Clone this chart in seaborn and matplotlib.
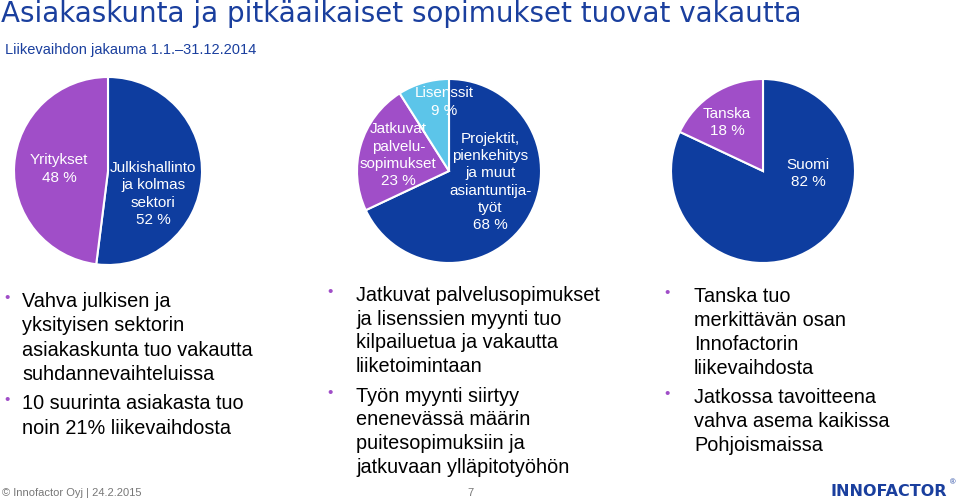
import seaborn as sns
import matplotlib.pyplot as plt

# data
asiakas_labels = ["Julkishallinto\nja kolmas\nsektori", "Yritykset"]
asiakas_values = [52, 48]

palvelu_labels = ["Projektit,\npienkehitys\nja muut\nasiantuntija-\ntyöt",
                  "Jatkuvat\npalvelu-\nsopimukset", "Lisenssit"]
palvelu_values = [68, 23, 9]

maa_labels = ["Suomi", "Tanska"]
maa_values = [82, 18]

bullets_1 = [["Vahva julkisen ja", "yksityisen sektorin",
              "asiakaskunta tuo vakautta", "suhdannevaihteluissa"],
             ["10 suurinta asiakasta tuo", "noin 21% liikevaihdosta"]]
bullets_2 = [["Jatkuvat palvelusopimukset", "ja lisenssien myynti tuo",
              "kilpailuetua ja vakautta", "liiketoimintaan"],
             ["Työn myynti siirtyy", "enenevässä määrin",
              "puitesopimuksiin ja", "jatkuvaan ylläpitotyöhön"]]
bullets_3 = [["Tanska tuo", "merkittävän osan", "Innofactorin",
              "liikevaihdosta"],
             ["Jatkossa tavoitteena", "vahva asema kaikissa",
              "Pohjoismaissa"]]

title = "Asiakaskunta ja pitkäaikaiset sopimukset tuovat vakautta"
subtitle = "Liikevaihdon jakauma 1.1.–31.12.2014"

# colours
blue = "#0e3d9f"
purple = "#a04ec8"
light = "#5cc5e9"
title_col = "#1a3f9e"

sns.set_theme(style="white")
plt.rcParams['font.family'] = ['Liberation Sans', 'DejaVu Sans']

W, H = 959, 500
fig = plt.figure(figsize=(W / 100, H / 100), dpi=100)


def fx(x):
    return x / W


def fy(y):
    return 1 - y / H


def pie_axes(cx, cy, r):
    return fig.add_axes([fx(cx - r), fy(cy + r), 2 * r / W, 2 * r / H])


def draw_pie(ax, values, colors, labels, label_pos):
    ax.pie(values, colors=colors, startangle=90, counterclock=False,
           wedgeprops=dict(edgecolor="white", linewidth=1.5))
    ax.set_xlim(-1, 1)
    ax.set_ylim(-1, 1)
    for lab, val, (dx, dy) in zip(labels, values, label_pos):
        ax.text(dx, dy, f"{lab}\n{val} %", ha="center", va="center",
                color="white", fontsize=11, linespacing=1.3)


ax1 = pie_axes(108, 171, 94)
draw_pie(ax1, asiakas_values, [blue, purple], asiakas_labels,
         [(0.48, -0.245), (-0.52, 0.02)])

ax2 = pie_axes(449, 171, 92)
draw_pie(ax2, palvelu_values, [blue, purple, light], palvelu_labels,
         [(0.45, -0.12), (-0.55, 0.17), (-0.05, 0.75)])

ax3 = pie_axes(763, 171, 92)
draw_pie(ax3, maa_values, [blue, purple], maa_labels,
         [(0.49, -0.03), (-0.39, 0.53)])

# title and subtitle
fig.text(fx(1), fy(22), title, color=title_col, fontsize=20,
         family=['DejaVu Sans'], va="baseline")
fig.text(fx(5), fy(54), subtitle, color=title_col, fontsize=10.5,
         family=['Liberation Sans Narrow', 'Liberation Sans'], va="baseline")


def bullet_column(paragraphs, bx, tx, y0, step, gap):
    y = y0
    for para in paragraphs:
        fig.text(fx(bx), fy(y - 9), "•", color=purple, fontsize=11,
                 ha="center", va="center")
        for line in para:
            fig.text(fx(tx), fy(y), line, fontsize=14.3, color="black",
                     va="baseline")
            y += step
        y += gap - step


bullet_column(bullets_1, 7, 22, 307, 24.3, 29.3)
bullet_column(bullets_2, 330, 356, 301, 23.6, 30)
bullet_column(bullets_3, 667, 694, 302, 24, 29)

# footer
fig.text(fx(2), fy(496), "© Innofactor Oyj | 24.2.2015", color="#777777",
         fontsize=8, family=['Liberation Sans Narrow', 'Liberation Sans'],
         va="baseline")
fig.text(fx(467), fy(496), "7", color="#777777", fontsize=8, va="baseline")
fig.text(fx(830), fy(496), "INNOFACTOR", color=title_col, fontsize=11.5,
         fontweight="bold", family=['DejaVu Sans'], va="baseline")
fig.text(fx(950), fy(484), "®", color=title_col, fontsize=5.5, va="baseline")

fig.savefig("out.png", dpi=100)
